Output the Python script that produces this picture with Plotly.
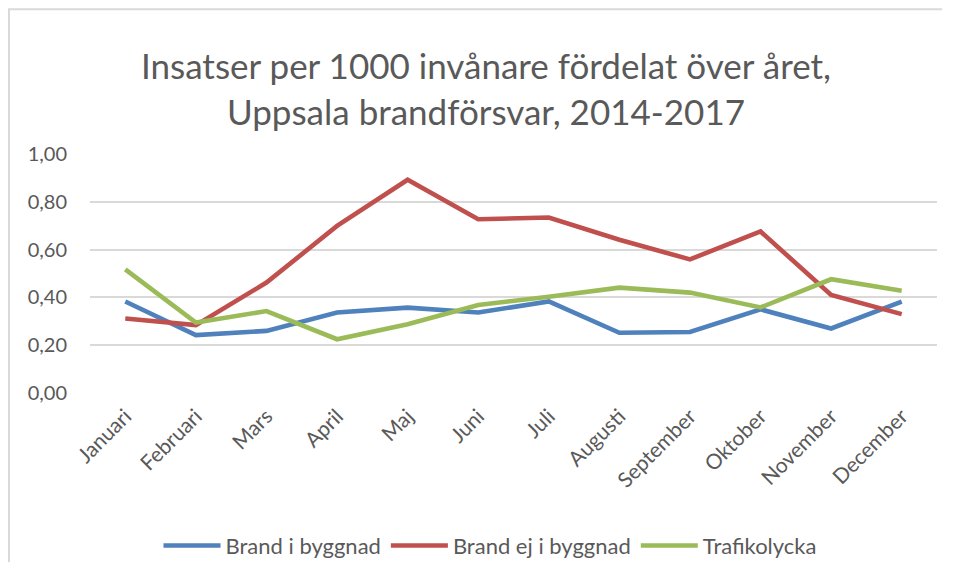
import plotly.graph_objects as go

months = ["Januari", "Februari", "Mars", "April", "Maj", "Juni", "Juli",
          "Augusti", "September", "Oktober", "November", "December"]
brand_i_byggnad = [0.383, 0.242, 0.260, 0.337, 0.357, 0.337, 0.383, 0.252, 0.255, 0.350, 0.270, 0.382]
brand_ej_i_byggnad = [0.312, 0.284, 0.462, 0.699, 0.892, 0.727, 0.734, 0.641, 0.559, 0.676, 0.410, 0.330]
trafikolycka = [0.517, 0.295, 0.343, 0.225, 0.288, 0.368, 0.403, 0.441, 0.420, 0.358, 0.476, 0.428]
y_ticks = [0.0, 0.2, 0.4, 0.6, 0.8, 1.0]

FONT = "Lato"
GRAY = "#595959"

fig = go.Figure()
for name, vals, col in [
    ("Brand i byggnad", brand_i_byggnad, "#4f81bd"),
    ("Brand ej i byggnad", brand_ej_i_byggnad, "#c0504d"),
    ("Trafikolycka", trafikolycka, "#9bbb59"),
]:
    fig.add_trace(go.Scatter(x=months, y=vals, mode="lines", name=name,
                             line=dict(color=col, width=4.6)))

# page body has an 8px margin, so the figure is drawn 8px in from the window edge;
# keep the figure a little smaller than the window so no scrollbars appear
OFF = 8
W, H = 954 - 2 * OFF - 4, 576 - 2 * OFF - 6
plot_left, plot_right = 90 - OFF, 937 - OFF
plot_top, plot_bottom = 154.3 - OFF, 392.7 - OFF
L, R, T, B = plot_left, W - plot_right, plot_top, H - plot_bottom
pw = plot_right - plot_left
ph = plot_bottom - plot_top

def px_x(x):
    return (x - OFF - plot_left) / pw

def px_y(y):
    return (plot_bottom - (y - OFF)) / ph

fig.update_layout(
    width=W, height=H,
    margin=dict(l=L, r=R, t=T, b=B, autoexpand=False),
    paper_bgcolor="white", plot_bgcolor="white",
    separators=", ",
    font=dict(family=FONT, size=20, color=GRAY),
    title=dict(text="Insatser per 1000 invånare fördelat över året,<br>Uppsala brandförsvar, 2014-2017",
               x=(486 - OFF) / W, xanchor="center", xref="container",
               y=1 - (79 - OFF) / H, yanchor="middle", yref="container",
               font=dict(family=FONT, size=35, color=GRAY)),
    xaxis=dict(type="category", range=[-0.5, 11.5], showgrid=False, showline=False,
               zeroline=False, ticks="", tickangle=-45, ticklabelstandoff=6,
               tickfont=dict(size=21, color=GRAY)),
    yaxis=dict(range=[0, 1.0], tickvals=y_ticks, tickformat=".2f",
               showgrid=True, gridcolor="#d9d9d9", gridwidth=1.5,
               zeroline=False, showline=False, ticks="", ticklabelstandoff=22,
               tickfont=dict(size=20, color=GRAY)),
    legend=dict(orientation="h", x=px_x(490), xanchor="center",
                y=px_y(545), yanchor="middle",
                font=dict(size=22, color=GRAY), itemwidth=57,
                bgcolor="rgba(0,0,0,0)"),
    showlegend=True,
)

# chart-area border: only its left and top sides fall inside the window
bx0, by_top, bx1, by_bot = px_x(9), px_y(10), px_x(990), px_y(620)
fig.add_shape(type="path", xref="paper", yref="paper",
              path=f"M {bx0},{by_bot} L {bx0},{by_top} L {bx1},{by_top}",
              line=dict(color="#d9d9d9", width=2), layer="below")

fig.write_html("out.html")
